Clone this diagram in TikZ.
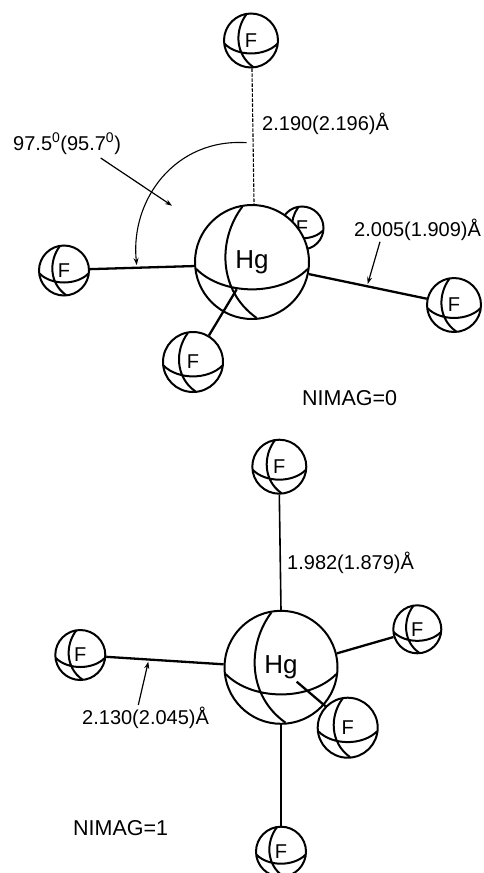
\documentclass[tikz,border=0pt]{standalone}
\usepackage{fontspec}
\setmainfont{Liberation Sans}
\newfontfamily\hgfont{Liberation Sans}
\usetikzlibrary{arrows.meta}
\tikzset{
  ball/.style={circle,draw,fill=white,line width=2pt,inner sep=0pt,font=\fontsize{20}{20}\selectfont},
  ballline/.style={line width=2pt},
  hgball/.style={ball,font=\hgfont\fontsize{26}{26}\selectfont},
  bond/.style={line width=2.3pt},
  thinbond/.style={line width=1.6pt},
  dashbond/.style={line width=1.1pt,dash pattern=on 3.5pt off 1.5pt},
  pointer/.style={line width=1.2pt,-{Stealth[length=7pt,width=5pt]}},
  lab/.style={anchor=base west,inner sep=0pt,font=\fontsize{20}{20}\selectfont},
  nimag/.style={anchor=base west,inner sep=0pt,font=\fontsize{21.5}{22}\selectfont},
}
\newcommand{\sphere}[6]{%
  \node[#6,minimum size=#4*2pt] (#1) at (#2,#3) {#5};
  \draw[ballline,shift={(#2,#3)},x=#4pt,y=-#4pt]
    (-.98,.12) .. controls (-.5,.6) and (.5,.6) .. (.98,.12)
    (-.17,-.97) .. controls (-.6,-.4) and (-.6,.5) .. (.08,.98);
}
\begin{document}
\begin{tikzpicture}[x=1pt,y=-1pt]
\useasboundingbox (0,0) rectangle (483,873);
% upper structure
\sphere{fb}{302}{228}{21.5}{F}{ball}
\sphere{hga}{252}{262}{57}{Hg}{hgball}
\sphere{fa}{251}{40.5}{27}{F}{ball}
\sphere{fc}{64}{270.5}{25}{F}{ball}
\sphere{fd}{454}{305}{27}{F}{ball}
\sphere{fe}{193}{362}{30}{F}{ball}
\coordinate (ein) at (236.7,289.3);
\draw[dashbond] (fa.-88) -- (hga.88);
\draw[bond] (hga.184) -- (fc.3);
\draw[bond] (hga.-12) -- (fd.167.5);
\draw[bond] (ein) -- (fe.59);
\node[lab] (la) at (262,130) {2.190(2.196)Å};
\node[lab] (lb) at (13,150) {97.5\textsuperscript{0}(95.7\textsuperscript{0})};
\node[lab] (lc) at (354,236) {2.005(1.909)Å};
\node[nimag] (na) at (302,405) {NIMAG=0};
\coordinate (p1s) at (100.7,158);
\coordinate (p1e) at (172,205.7);
\draw[pointer] (p1s) -- (p1e);
\coordinate (p2s) at (246.7,142.7);
\coordinate (p2e) at (136.7,265);
\draw[pointer,line width=1.1pt] (p2s) .. controls (175,138) and (130,200) .. (p2e);
\coordinate (p3s) at (380,241.7);
\coordinate (p3e) at (367.7,284);
\draw[pointer] (p3s) -- (p3e);
% lower structure
\sphere{hgb}{281}{667.3}{56.5}{Hg}{hgball}
\sphere{ga}{279.3}{466.7}{27}{F}{ball}
\sphere{gb}{80.3}{655}{25}{F}{ball}
\sphere{gc}{417.3}{629.3}{24}{F}{ball}
\sphere{gd}{347.7}{727.7}{30}{F}{ball}
\sphere{ge}{281}{851.7}{25}{F}{ball}
\coordinate (gin) at (296.7,681.7);
\draw[thinbond] (ga.south) -- (hgb.north);
\draw[bond] (gb.-4) -- (hgb.177);
\draw[bond] (hgb.14.6) -- (gc.198);
\draw[bond] (gin) -- (gd.136);
\draw[thinbond] (hgb.south) -- (ge.north);
\node[lab] (ld) at (287,569) {1.982(1.879)Å};
\node[lab] (le) at (82,724) {2.130(2.045)Å};
\node[nimag] (nb) at (73,835) {NIMAG=1};
\coordinate (p4s) at (138.3,705);
\coordinate (p4e) at (148.3,661.7);
\draw[pointer] (p4s) -- (p4e);
\end{tikzpicture}
\end{document}
